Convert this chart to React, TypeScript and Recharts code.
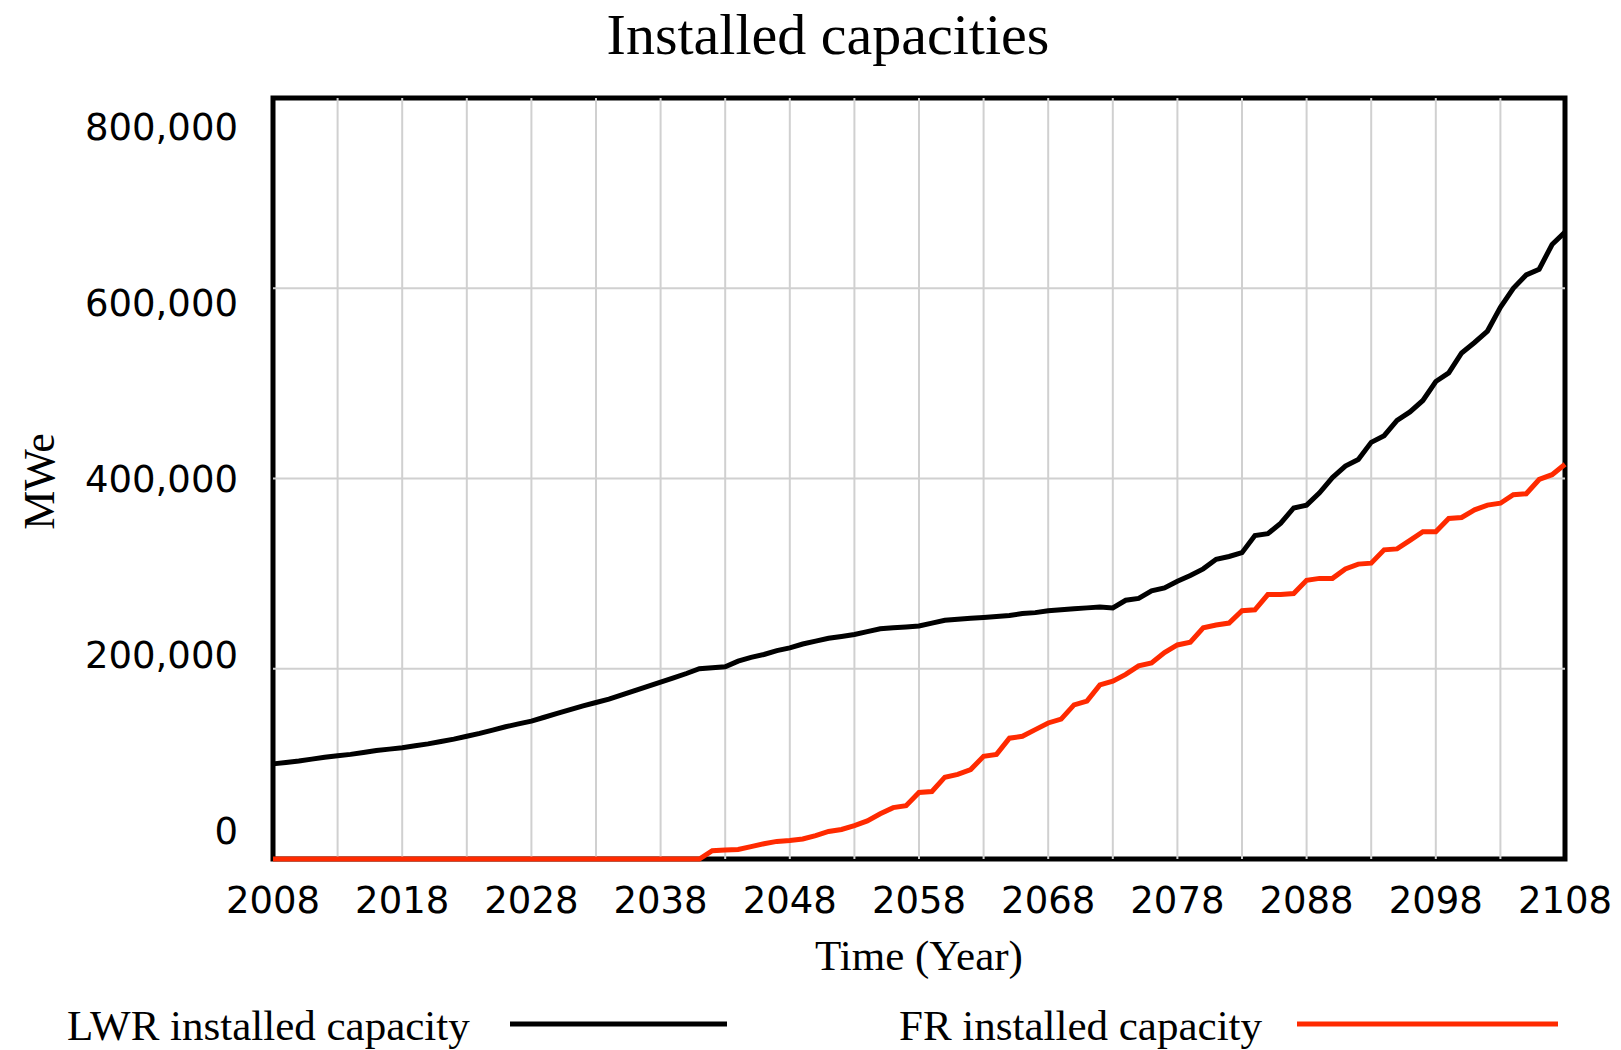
import React from 'react';
import { LineChart, Line, XAxis, YAxis, ReferenceLine, ReferenceArea, Label } from 'recharts';

// Installed capacity (MWe), one value per year from 2008 to 2108
const FIRST_YEAR = 2008;

const lwrCapacity = [
  100000, 101500, 103000, 105000, 107000, 108500, 110000, 112000, 114000, 115500,
  117000, 119000, 121000, 123500, 126000, 129000, 132000, 135500, 139000, 142000,
  145000, 149000, 153000, 157000, 161000, 164500, 168000, 172500, 177000, 181500,
  186000, 190500, 195000, 200000, 201000, 202000, 208000, 212000, 215000, 219000,
  222000, 226000, 229000, 232000, 234000, 236000, 239000, 242000, 243000, 244000,
  245000, 248000, 251000, 252000, 253000, 254000, 255000, 256000, 258000, 259000,
  261000, 262000, 263000, 264000, 265000, 264000, 272000, 274000, 282000, 285000,
  292000, 298000, 305000, 315000, 318000, 322000, 340000, 342000, 353000, 369000,
  372000, 385000, 401000, 413000, 420000, 438000, 445000, 461000, 470000, 482000,
  502000, 511000, 532000, 543000, 555000, 580000, 600000, 614000, 620000, 646000,
  659000,
];

const frCapacity = [
  0, 0, 0, 0, 0, 0, 0, 0, 0, 0,
  0, 0, 0, 0, 0, 0, 0, 0, 0, 0,
  0, 0, 0, 0, 0, 0, 0, 0, 0, 0,
  0, 0, 0, 0, 8800, 9500, 10000, 13000, 16000, 18500,
  19500, 21000, 24500, 29000, 31000, 35000, 40000, 47500, 54000, 56000,
  70000, 71000, 86000, 89000, 94000, 108000, 110000, 127000, 129000, 136000,
  143000, 147000, 162000, 166000, 183000, 187000, 194000, 203000, 206000, 217000,
  225000, 228000, 243000, 246000, 248000, 261000, 262000, 278000, 278000, 279000,
  293000, 295000, 295000, 305000, 310000, 311000, 325000, 326000, 335000, 344000,
  344000, 358000, 359000, 367000, 372000, 374000, 383000, 384000, 399000, 404000,
  415000,
];

const xTicks = [2008, 2018, 2028, 2038, 2048, 2058, 2068, 2078, 2088, 2098, 2108];
const gridYears = [
  2013, 2018, 2023, 2028, 2033, 2038, 2043, 2048, 2053, 2058,
  2063, 2068, 2073, 2078, 2083, 2088, 2093, 2098, 2103,
];
const yTicks = [0, 200000, 400000, 600000, 800000];

const LWR_COLOR = '#000000';
const FR_COLOR = '#ff2a00';
const GRID_COLOR = '#d0d0d0';
const SERIF = '"Liberation Serif", "Times New Roman", serif';
const SANS = '"DejaVu Sans", Verdana, sans-serif';

const data = lwrCapacity.map((v, i) => ({
  year: FIRST_YEAR + i,
  lwr: v,
  fr: frCapacity[i],
}));

const fmt = (v: number) => v.toLocaleString('en-US');

const XTick = (props: any) => {
  const { x, y, payload } = props;
  return (
    <text x={x} y={y + 54} textAnchor="middle" fontFamily={SANS} fontSize={37} fill="#000">
      {payload.value}
    </text>
  );
};

// vensim-style labels sit a little closer to the middle than their gridlines
const YTick = (props: any) => {
  const { x, y, payload } = props;
  const shift = ((payload.value - 400000) / 400000) * 28.5;
  return (
    <text x={x - 35} y={y + shift + 13} textAnchor="end" fontFamily={SANS} fontSize={37} fill="#000">
      {fmt(payload.value)}
    </text>
  );
};

const YTitle = (props: any) => {
  const vb = props.viewBox;
  const cx = vb.x + 54;
  const cy = vb.y + vb.height / 2 + 3;
  return (
    <text x={cx} y={cy} transform={`rotate(-90, ${cx}, ${cy})`} textAnchor="middle"
      fontFamily={SERIF} fontSize={44} fill="#000">
      MWe
    </text>
  );
};

const XTitle = (props: any) => {
  const vb = props.viewBox;
  return (
    <text x={vb.x + vb.width / 2} y={vb.y + 111} textAnchor="middle"
      fontFamily={SERIF} fontSize={43} fill="#000">
      Time (Year)
    </text>
  );
};

const legendItems = [
  { name: 'LWR installed capacity', color: LWR_COLOR, textX: 67, lineX1: 510, lineX2: 727 },
  { name: 'FR installed capacity', color: FR_COLOR, textX: 899, lineX1: 1297, lineX2: 1558 },
];

export default function App() {
  return (
    <div style={{ position: 'absolute', left: 0, top: 0, width: 1621, height: 1050, background: '#fff' }}>
      <LineChart width={1621} height={1050} data={data} margin={{ top: 98, right: 56, bottom: 0, left: 0 }}>
        <XAxis
          dataKey="year"
          type="number"
          domain={[2008, 2108]}
          ticks={xTicks}
          interval={0}
          height={191}
          tickLine={false}
          tickSize={0}
          tickMargin={0}
          axisLine={false}
          tick={<XTick />}
        >
          <Label content={<XTitle />} />
        </XAxis>
        <YAxis
          type="number"
          domain={[0, 800000]}
          ticks={yTicks}
          interval={0}
          width={273}
          tickLine={false}
          tickSize={0}
          tickMargin={0}
          axisLine={false}
          tick={<YTick />}
        >
          <Label content={<YTitle />} />
        </YAxis>
        {gridYears.map((yr) => (
          <ReferenceLine key={'gx' + yr} x={yr} stroke={GRID_COLOR} strokeWidth={2} />
        ))}
        {yTicks.slice(1, -1).map((v) => (
          <ReferenceLine key={'gy' + v} y={v} stroke={GRID_COLOR} strokeWidth={2} />
        ))}
        <ReferenceArea x1={2008} x2={2108} y1={0} y2={800000} fill="none" fillOpacity={0}
          stroke="#000" strokeWidth={5} strokeOpacity={1} ifOverflow="visible" />
        <Line type="linear" dataKey="lwr" stroke={LWR_COLOR} strokeWidth={5} dot={false} isAnimationActive={false} />
        <Line type="linear" dataKey="fr" stroke={FR_COLOR} strokeWidth={5} dot={false} isAnimationActive={false} />
      </LineChart>
      <svg width={1621} height={1050} style={{ position: 'absolute', left: 0, top: 0, pointerEvents: 'none' }}>
        <text x={828} y={54} textAnchor="middle" fontFamily={SERIF} fontSize={58} fill="#000">
          Installed capacities
        </text>
        {legendItems.map((it) => (
          <g key={it.name}>
            <text x={it.textX} y={1040} fontFamily={SERIF} fontSize={43} fill="#000">{it.name}</text>
            <line x1={it.lineX1} x2={it.lineX2} y1={1024} y2={1024} stroke={it.color} strokeWidth={5} />
          </g>
        ))}
      </svg>
    </div>
  );
}
